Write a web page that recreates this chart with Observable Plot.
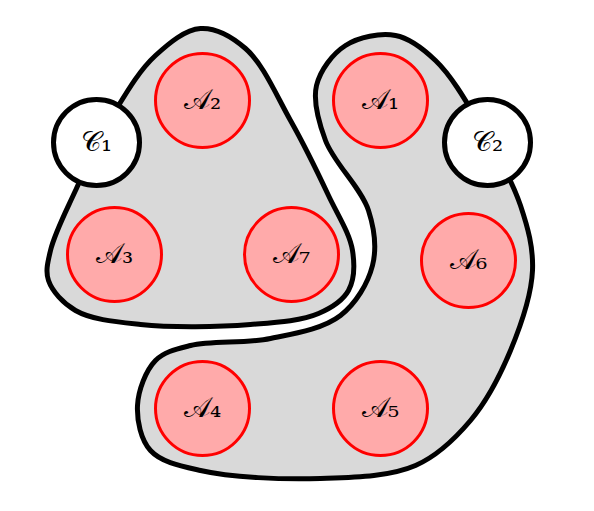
<!DOCTYPE html>
<html><head>
<script src="https://cdn.jsdelivr.net/npm/d3@7"></script>
<script src="https://cdn.jsdelivr.net/npm/@observablehq/plot@0.6"></script>
<style>body{margin:0;background:#fff}</style>
</head><body><div id="chart"></div>
<script>
// node labels and positions (diagram units = pixels)
const nodes = ["A1","A2","A3","A4","A5","A6","A7","C1","C2"]
const labels = ["𝒜₁","𝒜₂","𝒜₃","𝒜₄","𝒜₅","𝒜₆","𝒜₇","𝒞₁","𝒞₂"]
const nodeX = [380,202,114,202,380,468,291,96,487]
const nodeY = [100,100,254,408,408,260,254,142,142]
const nodeR = [47,47,47,47,47,47,47,43,43]
const kind = ["A","A","A","A","A","A","A","C","C"]

// outline of the two groups
const blob1X = [50,75,115,155,200,245,290,328,352,348,318,250,140,75,48]
const blob1Y = [250,190,110,55,28,48,120,195,250,290,313,324,324,310,280]
const blob2X = [316,345,395,435,480,520,532,510,470,415,320,200,150,137,155,190,270,340,372,368,325]
const blob2Y = [85,45,35,60,125,205,270,350,420,465,478,470,450,405,360,345,338,315,265,210,140]

const data = nodes.map((n,i)=>({n,label:labels[i],x:nodeX[i],y:nodeY[i],r:nodeR[i],kind:kind[i]}))
const b1 = blob1X.map((x,i)=>({x,y:blob1Y[i]}))
const b2 = blob2X.map((x,i)=>({x,y:blob2Y[i]}))

let chart = Plot.plot({
  width: 594, height: 511,
  margin: 0,
  x: {domain:[0,594], axis:null},
  y: {domain:[511,0], axis:null},
  r: {type:"identity"},
  marks: [
    Plot.line(b1, {x:"x", y:"y", curve:"catmull-rom-closed", fill:"#d9d9d9", stroke:"black", strokeWidth:5}),
    Plot.line(b2, {x:"x", y:"y", curve:"catmull-rom-closed", fill:"#d9d9d9", stroke:"black", strokeWidth:5}),
    Plot.dot(data.filter(d=>d.kind=="A"), {x:"x", y:"y", r:"r", fill:"#ffaaaa", stroke:"red", strokeWidth:3}),
    Plot.dot(data.filter(d=>d.kind=="C"), {x:"x", y:"y", r:"r", fill:"white", stroke:"black", strokeWidth:5}),
    Plot.text(data, {x:"x", y:"y", text:"label", fontSize:28, fill:"black", fontFamily:"DejaVu Serif, serif"})
  ]
})
d3.select('#chart').append(() => chart)
</script></body></html>
